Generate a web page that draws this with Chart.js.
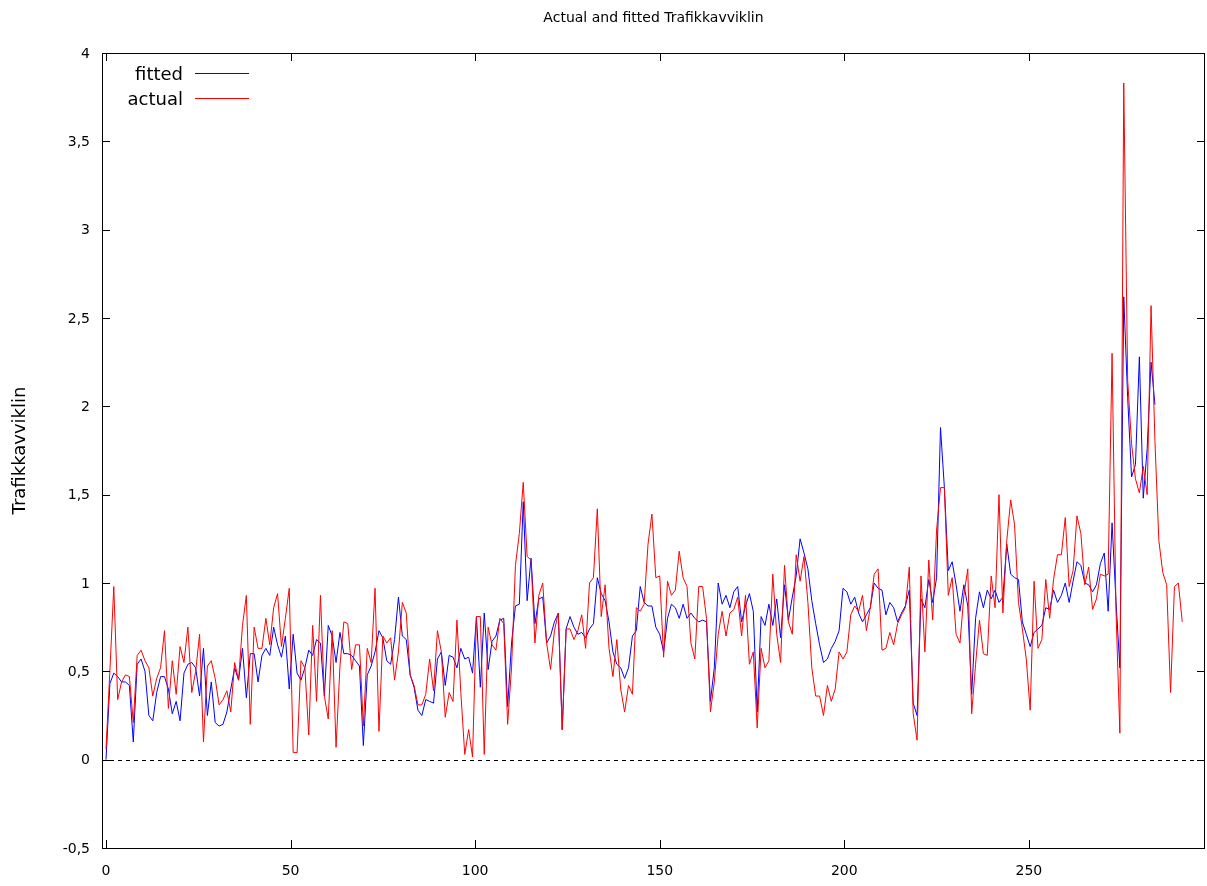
<!DOCTYPE html>
<html>
<head>
<meta charset="utf-8">
<script src="https://cdn.jsdelivr.net/npm/chart.js@4.4.1/dist/chart.umd.min.js"></script>
<style>
  html, body { margin: 0; padding: 0; background: #fff; }
  #wrap { width: 1207px; height: 886px; }
</style>
</head>
<body>
<div id="wrap"><canvas id="chart" width="1207" height="886"></canvas></div>
<script>
// observed values, in plotting order
const actual = [
  0.06, 0.50, 0.98, 0.34, 0.44, 0.48, 0.47, 0.21, 0.59, 0.62,
  0.56, 0.52, 0.36, 0.46, 0.52, 0.73, 0.29, 0.56, 0.37, 0.64,
  0.55, 0.75, 0.38, 0.50, 0.71, 0.10, 0.53, 0.56, 0.46, 0.31,
  0.34, 0.39, 0.27, 0.55, 0.45, 0.76, 0.93, 0.20, 0.75, 0.63,
  0.63, 0.80, 0.65, 0.86, 0.94, 0.64, 0.80, 0.97, 0.04, 0.04,
  0.56, 0.52, 0.14, 0.76, 0.33, 0.93, 0.36, 0.23, 0.73, 0.07,
  0.53, 0.78, 0.77, 0.51, 0.65, 0.65, 0.19, 0.63, 0.55, 0.97,
  0.16, 0.70, 0.66, 0.69, 0.45, 0.61, 0.89, 0.83, 0.48, 0.42,
  0.31, 0.31, 0.37, 0.57, 0.39, 0.73, 0.61, 0.24, 0.38, 0.33,
  0.79, 0.38, 0.03, 0.17, 0.015, 0.81, 0.81, 0.03, 0.75, 0.65,
  0.62, 0.80, 0.77, 0.20, 0.52, 1.10, 1.28, 1.57, 1.15, 1.13,
  0.66, 0.93, 1.00, 0.66, 0.51, 0.73, 0.83, 0.17, 0.74, 0.74,
  0.68, 0.73, 0.82, 0.63, 1.00, 1.03, 1.42, 0.81, 0.99, 0.63,
  0.47, 0.68, 0.40, 0.27, 0.42, 0.37, 0.86, 0.84, 0.88, 1.22,
  1.39, 1.03, 1.04, 0.58, 1.01, 0.93, 0.96, 1.18, 1.03, 0.98,
  0.66, 0.57, 0.98, 0.98, 0.80, 0.27, 0.44, 0.71, 0.84, 0.70,
  0.83, 0.85, 0.92, 0.70, 0.93, 0.54, 0.61, 0.18, 0.63, 0.52,
  0.56, 1.05, 0.71, 0.55, 1.10, 0.78, 0.71, 1.16, 1.01, 1.15,
  0.89, 0.52, 0.36, 0.36, 0.25, 0.42, 0.33, 0.40, 0.61, 0.57,
  0.61, 0.82, 0.87, 0.84, 0.93, 0.73, 0.86, 1.05, 1.08, 0.62,
  0.63, 0.72, 0.65, 0.77, 0.82, 0.86, 1.09, 0.26, 0.11, 1.04,
  0.61, 1.13, 0.79, 1.30, 1.54, 1.54, 0.93, 1.03, 0.71, 0.66,
  0.93, 1.08, 0.26, 0.54, 0.79, 0.60, 0.59, 1.04, 0.86, 1.50,
  0.83, 1.24, 1.47, 1.33, 0.89, 0.74, 0.57, 0.28, 1.01, 0.63,
  0.68, 1.02, 0.80, 1.02, 1.16, 1.16, 1.37, 0.98, 1.07, 1.38,
  1.28, 0.99, 1.09, 0.85, 0.91, 1.05, 1.04, 1.05, 2.30, 0.85,
  0.15, 3.83, 2.15, 1.79, 1.59, 1.51, 1.66, 1.50, 2.57, 1.80,
  1.24, 1.06, 0.99, 0.38, 0.98, 1.00, 0.78
];

// fitted values, same order, ends earlier
const fitted = [
  0.00, 0.43, 0.49, 0.47, 0.44, 0.44, 0.42, 0.10, 0.54, 0.57,
  0.50, 0.25, 0.22, 0.38, 0.47, 0.47, 0.40, 0.26, 0.33, 0.22,
  0.49, 0.54, 0.55, 0.52, 0.36, 0.63, 0.25, 0.44, 0.21, 0.19,
  0.20, 0.27, 0.40, 0.52, 0.45, 0.63, 0.35, 0.60, 0.60, 0.44,
  0.59, 0.63, 0.59, 0.75, 0.65, 0.58, 0.70, 0.40, 0.71, 0.49,
  0.45, 0.52, 0.62, 0.59, 0.68, 0.66, 0.36, 0.76, 0.70, 0.55,
  0.72, 0.60, 0.60, 0.59, 0.56, 0.53, 0.08, 0.48, 0.53, 0.61,
  0.73, 0.69, 0.56, 0.54, 0.68, 0.92, 0.70, 0.68, 0.48, 0.41,
  0.28, 0.25, 0.34, 0.33, 0.32, 0.57, 0.61, 0.42, 0.59, 0.58,
  0.52, 0.63, 0.57, 0.58, 0.49, 0.81, 0.41, 0.83, 0.51, 0.67,
  0.70, 0.79, 0.80, 0.30, 0.66, 0.87, 0.88, 1.46, 0.90, 1.14,
  0.77, 0.91, 0.92, 0.66, 0.70, 0.78, 0.83, 0.17, 0.74, 0.81,
  0.75, 0.71, 0.72, 0.69, 0.74, 0.77, 1.03, 0.94, 0.90, 0.78,
  0.61, 0.54, 0.52, 0.46, 0.52, 0.70, 0.73, 0.98, 0.89, 0.87,
  0.87, 0.75, 0.71, 0.61, 0.80, 0.88, 0.86, 0.80, 0.88, 0.80,
  0.83, 0.80, 0.78, 0.79, 0.78, 0.33, 0.52, 1.00, 0.88, 0.93,
  0.86, 0.95, 0.98, 0.78, 0.87, 0.94, 0.84, 0.27, 0.81, 0.76,
  0.88, 0.76, 0.91, 0.69, 0.99, 0.79, 0.92, 1.04, 1.25, 1.17,
  1.08, 0.90, 0.77, 0.65, 0.55, 0.57, 0.63, 0.67, 0.73, 0.97,
  0.95, 0.88, 0.92, 0.83, 0.78, 0.82, 0.86, 1.00, 0.97, 0.96,
  0.82, 0.89, 0.86, 0.78, 0.83, 0.87, 0.96, 0.32, 0.25, 0.91,
  0.86, 1.02, 0.89, 1.03, 1.88, 1.54, 1.07, 1.12, 0.99, 0.84,
  0.99, 0.87, 0.37, 0.80, 0.95, 0.86, 0.96, 0.91, 0.96, 0.89,
  0.92, 1.22, 1.05, 1.03, 1.02, 0.78, 0.71, 0.64, 0.72, 0.74,
  0.76, 0.86, 0.85, 0.96, 0.89, 0.93, 1.00, 0.89, 1.01, 1.12,
  1.10, 1.00, 0.99, 0.95, 0.99, 1.11, 1.17, 0.84, 1.34, 0.90,
  0.52, 2.62, 2.05, 1.60, 1.67, 2.28, 1.48, 1.76, 2.25, 2.01
];

const xTicks = [0, 50, 100, 150, 200, 250];
const yTicks = [-0.5, 0, 0.5, 1, 1.5, 2, 2.5, 3, 3.5, 4];
const X_MIN = -1.08, X_MAX = 297.7;
const X_STEP = 1.0563;   // x distance between consecutive observations
const Y_MIN = -0.5, Y_MAX = 4;

const FONT = "'DejaVu Sans', Verdana, sans-serif";

function toPoints(arr) {
  return arr.map((v, i) => ({ x: i * X_STEP, y: v }));
}

function fmt(v) {
  return String(v).replace('.', ',');
}

// gnuplot style frame, ticks, labels, key, zero line
const gnuplotLook = {
  id: 'gnuplotLook',
  beforeDatasetsDraw(chart) {
    const { ctx, chartArea: a, scales: { y } } = chart;
    ctx.save();
    const y0 = Math.round(y.getPixelForValue(0)) + 0.5;
    ctx.strokeStyle = '#000';
    ctx.lineWidth = 1;
    ctx.setLineDash([4, 4]);
    ctx.beginPath();
    ctx.moveTo(a.left, y0);
    ctx.lineTo(a.right, y0);
    ctx.stroke();
    ctx.restore();
  },
  afterDraw(chart) {
    const { ctx, chartArea: a, scales: { x, y } } = chart;
    ctx.save();
    ctx.strokeStyle = '#000';
    ctx.fillStyle = '#000';
    ctx.lineWidth = 1;

    // border
    ctx.strokeRect(Math.round(a.left) + 0.5, Math.round(a.top) + 0.5,
      Math.round(a.right - a.left) - 1, Math.round(a.bottom - a.top));

    const tl = 8;
    ctx.beginPath();
    yTicks.forEach(t => {
      const py = Math.round(y.getPixelForValue(t)) + 0.5;
      ctx.moveTo(a.left, py); ctx.lineTo(a.left + tl, py);
      ctx.moveTo(a.right, py); ctx.lineTo(a.right - tl, py);
    });
    xTicks.forEach(t => {
      const px = Math.round(x.getPixelForValue(t)) + 0.5;
      ctx.moveTo(px, a.bottom); ctx.lineTo(px, a.bottom - tl);
      ctx.moveTo(px, a.top); ctx.lineTo(px, a.top + tl);
    });
    ctx.stroke();

    ctx.font = '14px ' + FONT;
    ctx.textAlign = 'right';
    ctx.textBaseline = 'middle';
    yTicks.forEach(t => {
      ctx.fillText(fmt(t), a.left - 12, y.getPixelForValue(t) + 1);
    });
    ctx.textAlign = 'center';
    xTicks.forEach(t => {
      ctx.fillText(fmt(t), x.getPixelForValue(t), a.bottom + 23);
    });

    // title
    ctx.fillText('Actual and fitted Trafikkavviklin', (a.left + a.right) / 2, 18);

    // y axis title
    ctx.save();
    ctx.font = '18px ' + FONT;
    ctx.translate(20, (a.top + a.bottom) / 2);
    ctx.rotate(-Math.PI / 2);
    ctx.fillText('Trafikkavviklin', 0, 0);
    ctx.restore();

    // key
    const keys = [['fitted', '#0000ff', 75], ['actual', '#ff0000', 100]];
    ctx.font = '18px ' + FONT;
    ctx.textAlign = 'right';
    keys.forEach(([label, col, ky]) => {
      ctx.fillStyle = '#000';
      ctx.fillText(label, 183, ky);
      ctx.strokeStyle = col;
      ctx.beginPath();
      ctx.moveTo(195, ky - 1.5);
      ctx.lineTo(249, ky - 1.5);
      ctx.stroke();
    });
    ctx.restore();
  }
};

new Chart(document.getElementById('chart'), {
  type: 'line',
  data: {
    datasets: [
      {
        label: 'fitted',
        data: toPoints(fitted),
        borderColor: '#0000ff',
        borderWidth: 1,
        pointRadius: 0,
        tension: 0,
        order: 1
      },
      {
        label: 'actual',
        data: toPoints(actual),
        borderColor: '#ff0000',
        borderWidth: 1,
        pointRadius: 0,
        tension: 0,
        order: 0
      }
    ]
  },
  options: {
    responsive: false,
    animation: false,
    devicePixelRatio: 1,
    layout: { padding: { left: 102, top: 53, right: 2, bottom: 38 } },
    scales: {
      x: { type: 'linear', min: X_MIN, max: X_MAX, display: false },
      y: { type: 'linear', min: Y_MIN, max: Y_MAX, display: false }
    },
    plugins: {
      legend: { display: false },
      tooltip: { enabled: false }
    }
  },
  plugins: [gnuplotLook]
});
</script>
</body>
</html>
